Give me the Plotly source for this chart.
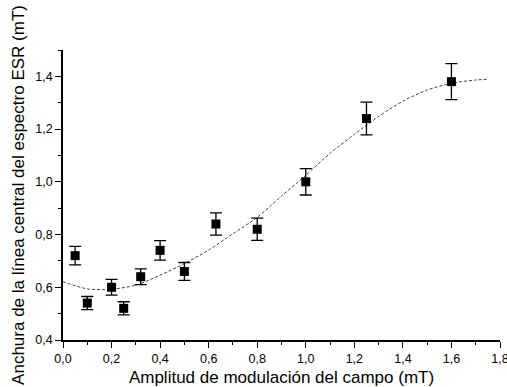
import plotly.graph_objects as go

# Measured data
amp_x = [0.05, 0.10, 0.20, 0.25, 0.32, 0.40, 0.50, 0.63, 0.80, 1.00, 1.25, 1.60]
width_y = [0.72, 0.54, 0.60, 0.52, 0.64, 0.74, 0.66, 0.84, 0.82, 1.00, 1.24, 1.38]
width_err = [0.035, 0.025, 0.03, 0.025, 0.03, 0.037, 0.034, 0.042, 0.042, 0.05, 0.062, 0.068]

# Fitted curve
fit_x = [0.0, 0.1, 0.19, 0.3, 0.4, 0.5, 0.6, 0.7, 0.8, 0.9, 1.0, 1.1, 1.2, 1.3, 1.4, 1.5, 1.6, 1.7, 1.75]
fit_y = [0.621, 0.594, 0.592, 0.608, 0.646, 0.69, 0.741, 0.803, 0.865, 0.946, 1.025, 1.108, 1.18, 1.248, 1.306, 1.348, 1.374, 1.386, 1.389]

x_ticks = [0.0, 0.2, 0.4, 0.6, 0.8, 1.0, 1.2, 1.4, 1.6, 1.8]
y_ticks = [0.4, 0.6, 0.8, 1.0, 1.2, 1.4]

font_family = "Liberation Sans, Arial, sans-serif"

fig = go.Figure()
fig.add_trace(go.Scatter(
    x=fit_x, y=fit_y, mode="lines", line_shape="spline",
    line=dict(color="#444444", width=1, dash="3px,2px", smoothing=0.8),
    showlegend=False, hoverinfo="skip"))
fig.add_trace(go.Scatter(
    x=amp_x, y=width_y, mode="markers",
    marker=dict(symbol="square", size=9, color="black"),
    error_y=dict(type="data", array=width_err, visible=True, color="black", thickness=1.3, width=6),
    showlegend=False))

axis_common = dict(
    showline=True, linecolor="black", linewidth=1.5, mirror=False,
    ticks="outside", ticklen=6, tickwidth=1.3, tickcolor="black",
    showgrid=False, zeroline=False, automargin=False,
    tickfont=dict(family=font_family, size=12.5, color="black"),
    ticklabeloverflow="allow",
    minor=dict(ticks="outside", ticklen=3, tickwidth=1, tickcolor="black", showgrid=False),
)

fig.update_layout(
    width=507, height=387,
    margin=dict(l=63, r=7, t=50, b=47, autoexpand=False),
    paper_bgcolor="white", plot_bgcolor="white",
    separators=",.",
    font=dict(family=font_family, color="black"),
    xaxis=dict(range=[0, 1.8], tickvals=x_ticks, tickformat=".1f",
               title=dict(text="Amplitud de modulación del campo (mT)", font=dict(size=17), standoff=6),
               **axis_common),
    yaxis=dict(range=[0.4, 1.5], tickvals=y_ticks, tickformat=".1f",
               title=dict(text="Anchura de la línea central del espectro ESR (mT)", font=dict(size=17), standoff=6),
               **axis_common),
)
fig.update_xaxes(minor=dict(dtick=0.1, tick0=0))
fig.update_yaxes(minor=dict(dtick=0.1, tick0=0))

fig.write_html("out.html")
